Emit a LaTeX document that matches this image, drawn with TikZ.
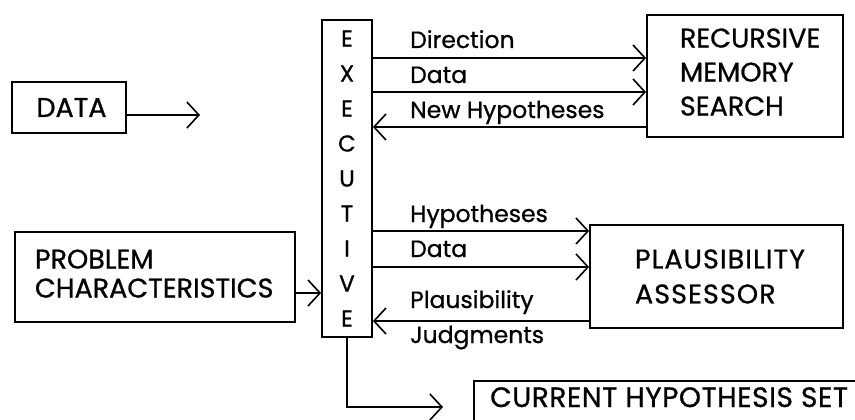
\documentclass[tikz,border=0pt]{standalone}
\usepackage{fontspec}
\setmainfont{Poppins}[FakeBold=0.8]
\newfontfamily\widefont{Poppins}[FakeBold=0.8,LetterSpace=4]
\newfontfamily\semiwidefont{Poppins}[FakeBold=0.8,LetterSpace=2]
\usetikzlibrary{arrows.meta}
\begin{document}
\begin{tikzpicture}[x=1pt,y=-1pt,
  box/.style={draw, line width=1.8pt, inner sep=0pt},
  lbl/.style={anchor=base west, inner sep=0pt, font=\fontsize{23.5}{26}\selectfont},
  conn/.style={line width=1.7pt, -{Straight Barb[length=12pt,width=26pt,line width=1.6pt]}},
]
\useasboundingbox (0,0) rectangle (855,420);
\clip (0,0) rectangle (855,420);

% boxes
\node (data) [box, minimum width=114, minimum height=51, font=\fontsize{27}{30}\selectfont] at (69,107.5) {\hspace{5pt}DATA};
\node (exec) [box, minimum width=50, minimum height=317, align=center, font=\fontsize{23}{35}\selectfont] at (347,178.5) {E\\X\\E\\C\\U\\T\\I\\V\\E};
\node (rms) [box, minimum width=196, minimum height=122, text width=130, align=left, font=\fontsize{27}{34}\selectfont] at (745,76) {RECURSIVE\\MEMORY\\SEARCH\rule[-8pt]{0pt}{8pt}};
\node (prob) [box, minimum width=280, minimum height=90, text width=240, align=left, font=\fontsize{27}{29}\selectfont] at (155,277) {PROBLEM\\CHARACTERISTICS\rule[-7pt]{0pt}{7pt}};
\node (pa) [box, minimum width=253, minimum height=103, text width=163, align=left, font=\widefont\fontsize{27}{35}\selectfont] at (716.5,276.5) {PLAUSIBILITY\\ASSESSOR};
\node (chs) [box, anchor=north west, minimum width=430, minimum height=80] at (473,380) {};
\node (chst) [anchor=base west, inner sep=0pt, font=\semiwidefont\fontsize{28}{30}\selectfont] at (490,407) {CURRENT HYPOTHESIS SET};

% connectors
\coordinate (dataend) at (200,115);
\draw[conn] (data.east |- dataend) -- (dataend);
\draw[conn] (prob.east |- 0,293) -- (exec.west |- 0,293);

\draw[conn] (exec.east |- 0,58) -- (rms.west |- 0,58);
\draw[conn] (exec.east |- 0,92) -- (rms.west |- 0,92);
\draw[conn] (rms.west |- 0,127) -- (exec.east |- 0,127);

\draw[conn] (exec.east |- 0,231) -- (pa.west |- 0,231);
\draw[conn] (exec.east |- 0,267) -- (pa.west |- 0,267);
\draw[conn] (pa.west |- 0,321) -- (exec.east |- 0,321);

\coordinate (chsin) at (443,407);
\draw[conn] (exec.south) -- (exec.south |- chsin) -- (chsin);

% labels
\node (l1) [lbl] at (410,48) {Direction};
\node (l2) [lbl] at (410,83) {Data};
\node (l3) [lbl] at (410,118) {New Hypotheses};
\node (l4) [lbl] at (410,222) {Hypotheses};
\node (l5) [lbl] at (410,257) {Data};
\node (l6) [lbl] at (410,308) {Plausibility};
\node (l7) [lbl] at (410,343) {Judgments};
\end{tikzpicture}
\end{document}
